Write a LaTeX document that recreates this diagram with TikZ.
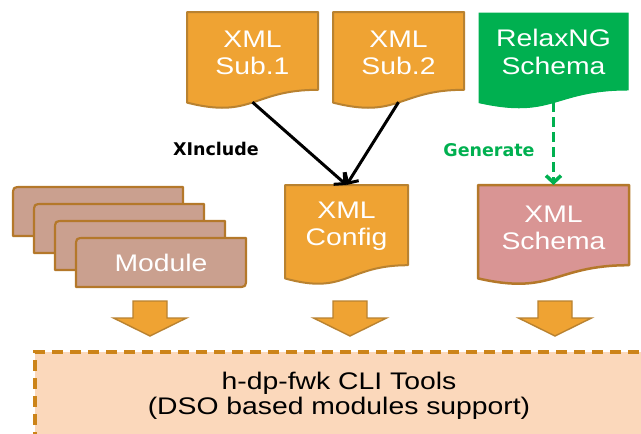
\documentclass[tikz,border=0pt]{standalone}
\usepackage{fontspec}
\setmainfont[FakeStretch=1.18]{Liberation Sans}
\newfontfamily\lblfont{DejaVu Sans}
\usetikzlibrary{calc,arrows.meta}
\definecolor{docor}{HTML}{EFA333}
\definecolor{docbd}{HTML}{B98230}
\definecolor{grn}{HTML}{00B050}
\definecolor{modfill}{HTML}{CAA08F}
\definecolor{modbd}{HTML}{B4782A}
\definecolor{schfill}{HTML}{D99594}
\definecolor{toolfill}{HTML}{FBD8BB}
\definecolor{toolbd}{HTML}{CC8419}
\newcommand\docpath[2]{\path[#2] (#1.north west) -- (#1.north east) -- ($(#1.north east)!0.802!(#1.south east)$) .. controls ($(#1.north)!0.802!(#1.south)$) and ($(#1.north)!1.107!(#1.south)$) .. ($(#1.north west)!0.934!(#1.south west)$) -- cycle;}
\newcommand\modpath[1]{\path[modshape] (#1.south west) -- ($(#1.north west)+(0,9)$) .. controls (#1.north west) .. ($(#1.north west)+(9,0)$) -- (#1.north east) -- ($(#1.south east)+(0,-9)$) .. controls (#1.south east) .. ($(#1.south east)+(-9,0)$) -- cycle;}
\newcommand\blockarrow[1]{\path[barrow] (#1-17,301) -- (#1+17,301) -- (#1+17,318) -- (#1+36.5,318) -- (#1,336) -- (#1-36.5,318) -- (#1-17,318) -- cycle;}
\begin{document}
\begin{tikzpicture}[x=1pt,y=-1pt,
  geo/.style={draw=none,inner sep=0pt,outer sep=0pt},
  orangedoc/.style={fill=docor,draw=docbd,line width=2pt,line join=round},
  greendoc/.style={fill=grn,draw=grn,line width=1pt},
  schemadoc/.style={fill=schfill,draw=modbd,line width=2.5pt,line join=round},
  modshape/.style={fill=modfill,draw=modbd,line width=2.2pt,line join=round},
  barrow/.style={fill=docor,draw=docbd,line width=1.4pt,line join=miter},
  doctxt/.style={text=white,align=center,inner sep=0pt,font=\fontsize{24}{27.5}\selectfont},
  lbl/.style={inner sep=0pt,font=\lblfont\bfseries\fontsize{17.5}{20}\selectfont},
  blkarrow/.style={draw=black,line width=3pt,-{Straight Barb[length=8pt,width=16pt]}},
  grnarrow/.style={draw=grn,line width=3.5pt,dash pattern=on 10pt off 5pt,-{Straight Barb[length=7pt,width=15pt]}},
  toolsbox/.style={fill=toolfill,draw=toolbd,line width=3.8pt,dash pattern=on 11pt off 7pt,inner sep=0pt,outer sep=0pt}
]
\useasboundingbox (0,0) rectangle (641,434);
\fill[white] (0,0) rectangle (641,434);

% tools box
\node[toolsbox,anchor=north west,minimum width=700pt,minimum height=140pt] (tools) at (35,352) {};
\node[inner sep=0pt,align=center,font=\fontsize{24}{25.5}\selectfont] (toolstxt) at (339,396) {h-dp-fwk CLI Tools\\(DSO based modules support)};

% geometry of documents
\node[geo,minimum width=131pt,minimum height=97pt] (sub1) at (252.5,60.5) {};
\node[geo,minimum width=131pt,minimum height=97pt] (sub2) at (398.5,60.5) {};
\node[geo,minimum width=149pt,minimum height=96pt] (relax) at (553.5,61) {};
\node[geo,minimum width=123pt,minimum height=100pt] (config) at (346.5,235) {};
\node[geo,minimum width=151pt,minimum height=100pt] (schema) at (553.5,235) {};

\docpath{sub1}{orangedoc}
\docpath{sub2}{orangedoc}
\docpath{relax}{greendoc}
\docpath{config}{orangedoc}
\docpath{schema}{schemadoc}

\node[doctxt] (sub1t) at (252.5,53) {XML\\Sub.1};
\node[doctxt] (sub2t) at (398.5,53) {XML\\Sub.2};
\node[doctxt] (relaxt) at (553.5,52) {RelaxNG\\Schema};
\node[doctxt] (configt) at (346.5,226) {XML\\Config};
\node[doctxt] (schemat) at (553.5,228) {XML\\Schema};

% module stack
\node[geo,minimum width=170pt,minimum height=49pt] (m1) at (98,211.5) {};
\node[geo,minimum width=170pt,minimum height=49pt] (m2) at (119,228.5) {};
\node[geo,minimum width=170pt,minimum height=49pt] (m3) at (140,245.5) {};
\node[geo,minimum width=170pt,minimum height=49pt] (m4) at (161,262.5) {};
\modpath{m1}
\modpath{m2}
\modpath{m3}
\modpath{m4}
\node[doctxt] (modt) at (m4.center) {Module};

% connectors
\coordinate (sub1b) at ($(sub1.north)!0.93!(sub1.south)$);
\coordinate (sub2b) at ($(sub2.north)!0.93!(sub2.south)$);
\coordinate (relaxb) at ($(relax.north)!0.93!(relax.south)$);
\draw[blkarrow] (sub1b) -- (config.north);
\draw[blkarrow] (sub2b) -- (config.north);
\draw[grnarrow] (relaxb) -- (schema.north);

\node[lbl,text=black] (xinc) at (216,149) {XInclude};
\node[lbl,text=grn] (gen) at (489,150) {Generate};

% block arrows
\blockarrow{150}
\blockarrow{350}
\blockarrow{555}
\end{tikzpicture}
\end{document}
